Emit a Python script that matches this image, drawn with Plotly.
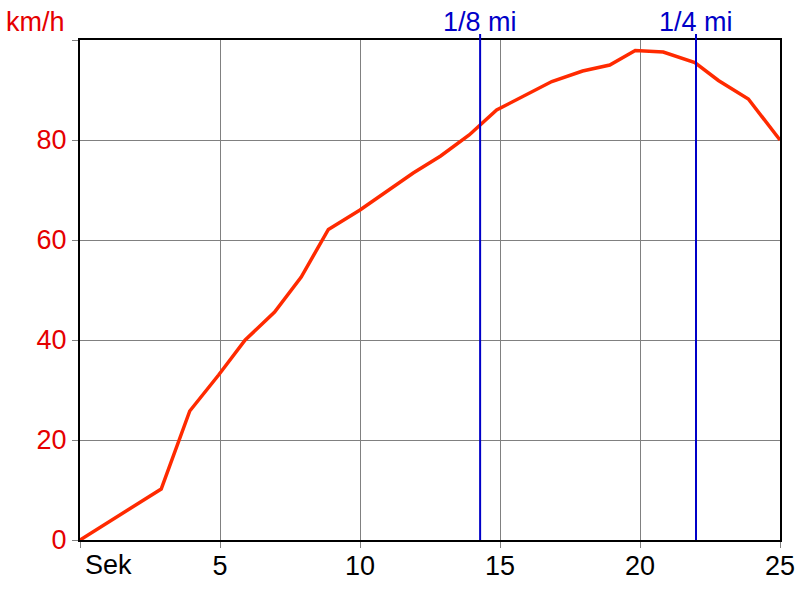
import plotly.graph_objects as go

time_s = [0, 2.9, 3.92, 4.95, 5.9, 6.95, 7.9, 8.87, 10.0, 10.95, 11.9, 12.88, 13.9, 14.88,
          15.9, 16.85, 17.95, 18.92, 19.83, 20.83, 21.96, 22.8, 23.87, 25.0]
speed_kmh = [0, 10.2, 25.8, 33.0, 40.0, 45.6, 52.6, 62.1, 66.0, 69.8, 73.4, 76.8, 81.0, 86.0,
             89.0, 91.7, 93.8, 95.0, 97.9, 97.6, 95.5, 91.9, 88.2, 80.0]
marker_times = [14.29, 22.0]
marker_labels = ["1/8 mi", "1/4 mi"]
x_ticks = [0, 5, 10, 15, 20, 25]
x_ticktext = ["", "5", "10", "15", "20", "25"]
y_ticks = [0, 20, 40, 60, 80, 100]
y_ticktext = ["0", "20", "40", "60", "80", ""]

FONT = "Liberation Sans, Arial, sans-serif"
FS = 27
RED = "#e50000"
BLUE = "#0000c8"

fig = go.Figure()
fig.add_trace(go.Scatter(x=time_s, y=speed_kmh, mode="lines",
                         line=dict(color="#ff2a00", width=3.5), hoverinfo="skip"))

for t, lab in zip(marker_times, marker_labels):
    fig.add_shape(type="line", xref="x", yref="paper", x0=t, x1=t, y0=0, y1=1.012,
                  line=dict(color=BLUE, width=2), layer="above")
    fig.add_annotation(x=t, xref="x", y=1.0, yref="paper", yanchor="bottom", yshift=1,
                       text=lab, showarrow=False, font=dict(family=FONT, size=FS, color=BLUE))

fig.add_annotation(x=0, xref="paper", xanchor="left", xshift=-76, y=1.0, yref="paper",
                   yanchor="bottom", yshift=1, text="km/h", showarrow=False,
                   font=dict(family=FONT, size=FS, color=RED))
fig.add_annotation(x=0, xref="x", xanchor="left", xshift=3, y=0, yref="paper",
                   yanchor="top", yshift=-8, text="Sek", showarrow=False,
                   font=dict(family=FONT, size=FS, color="black"))

fig.update_layout(
    width=800, height=600,
    margin=dict(l=80, r=20, t=40, b=60),
    plot_bgcolor="white", paper_bgcolor="white",
    showlegend=False,
    font=dict(family=FONT, size=FS),
)
fig.update_xaxes(range=[0, 25], tickvals=x_ticks, ticktext=x_ticktext, automargin=False,
                 showgrid=True, gridcolor="#808080", gridwidth=1,
                 showline=True, linecolor="black", linewidth=2, mirror=True,
                 ticks="outside", ticklen=6, tickcolor="#808080", ticklabelstandoff=-5,
                 tickfont=dict(family=FONT, size=FS, color="black"), zeroline=False)
fig.update_yaxes(range=[0, 100], tickvals=y_ticks, ticktext=y_ticktext, automargin=False,
                 showgrid=True, gridcolor="#808080", gridwidth=1,
                 showline=True, linecolor="black", linewidth=2, mirror=True,
                 ticks="outside", ticklen=6, tickcolor="#808080",
                 tickfont=dict(family=FONT, size=FS, color=RED), zeroline=False)

fig.write_html("out.html", config={"displayModeBar": False},
               post_script="document.body.style.margin='0';")
